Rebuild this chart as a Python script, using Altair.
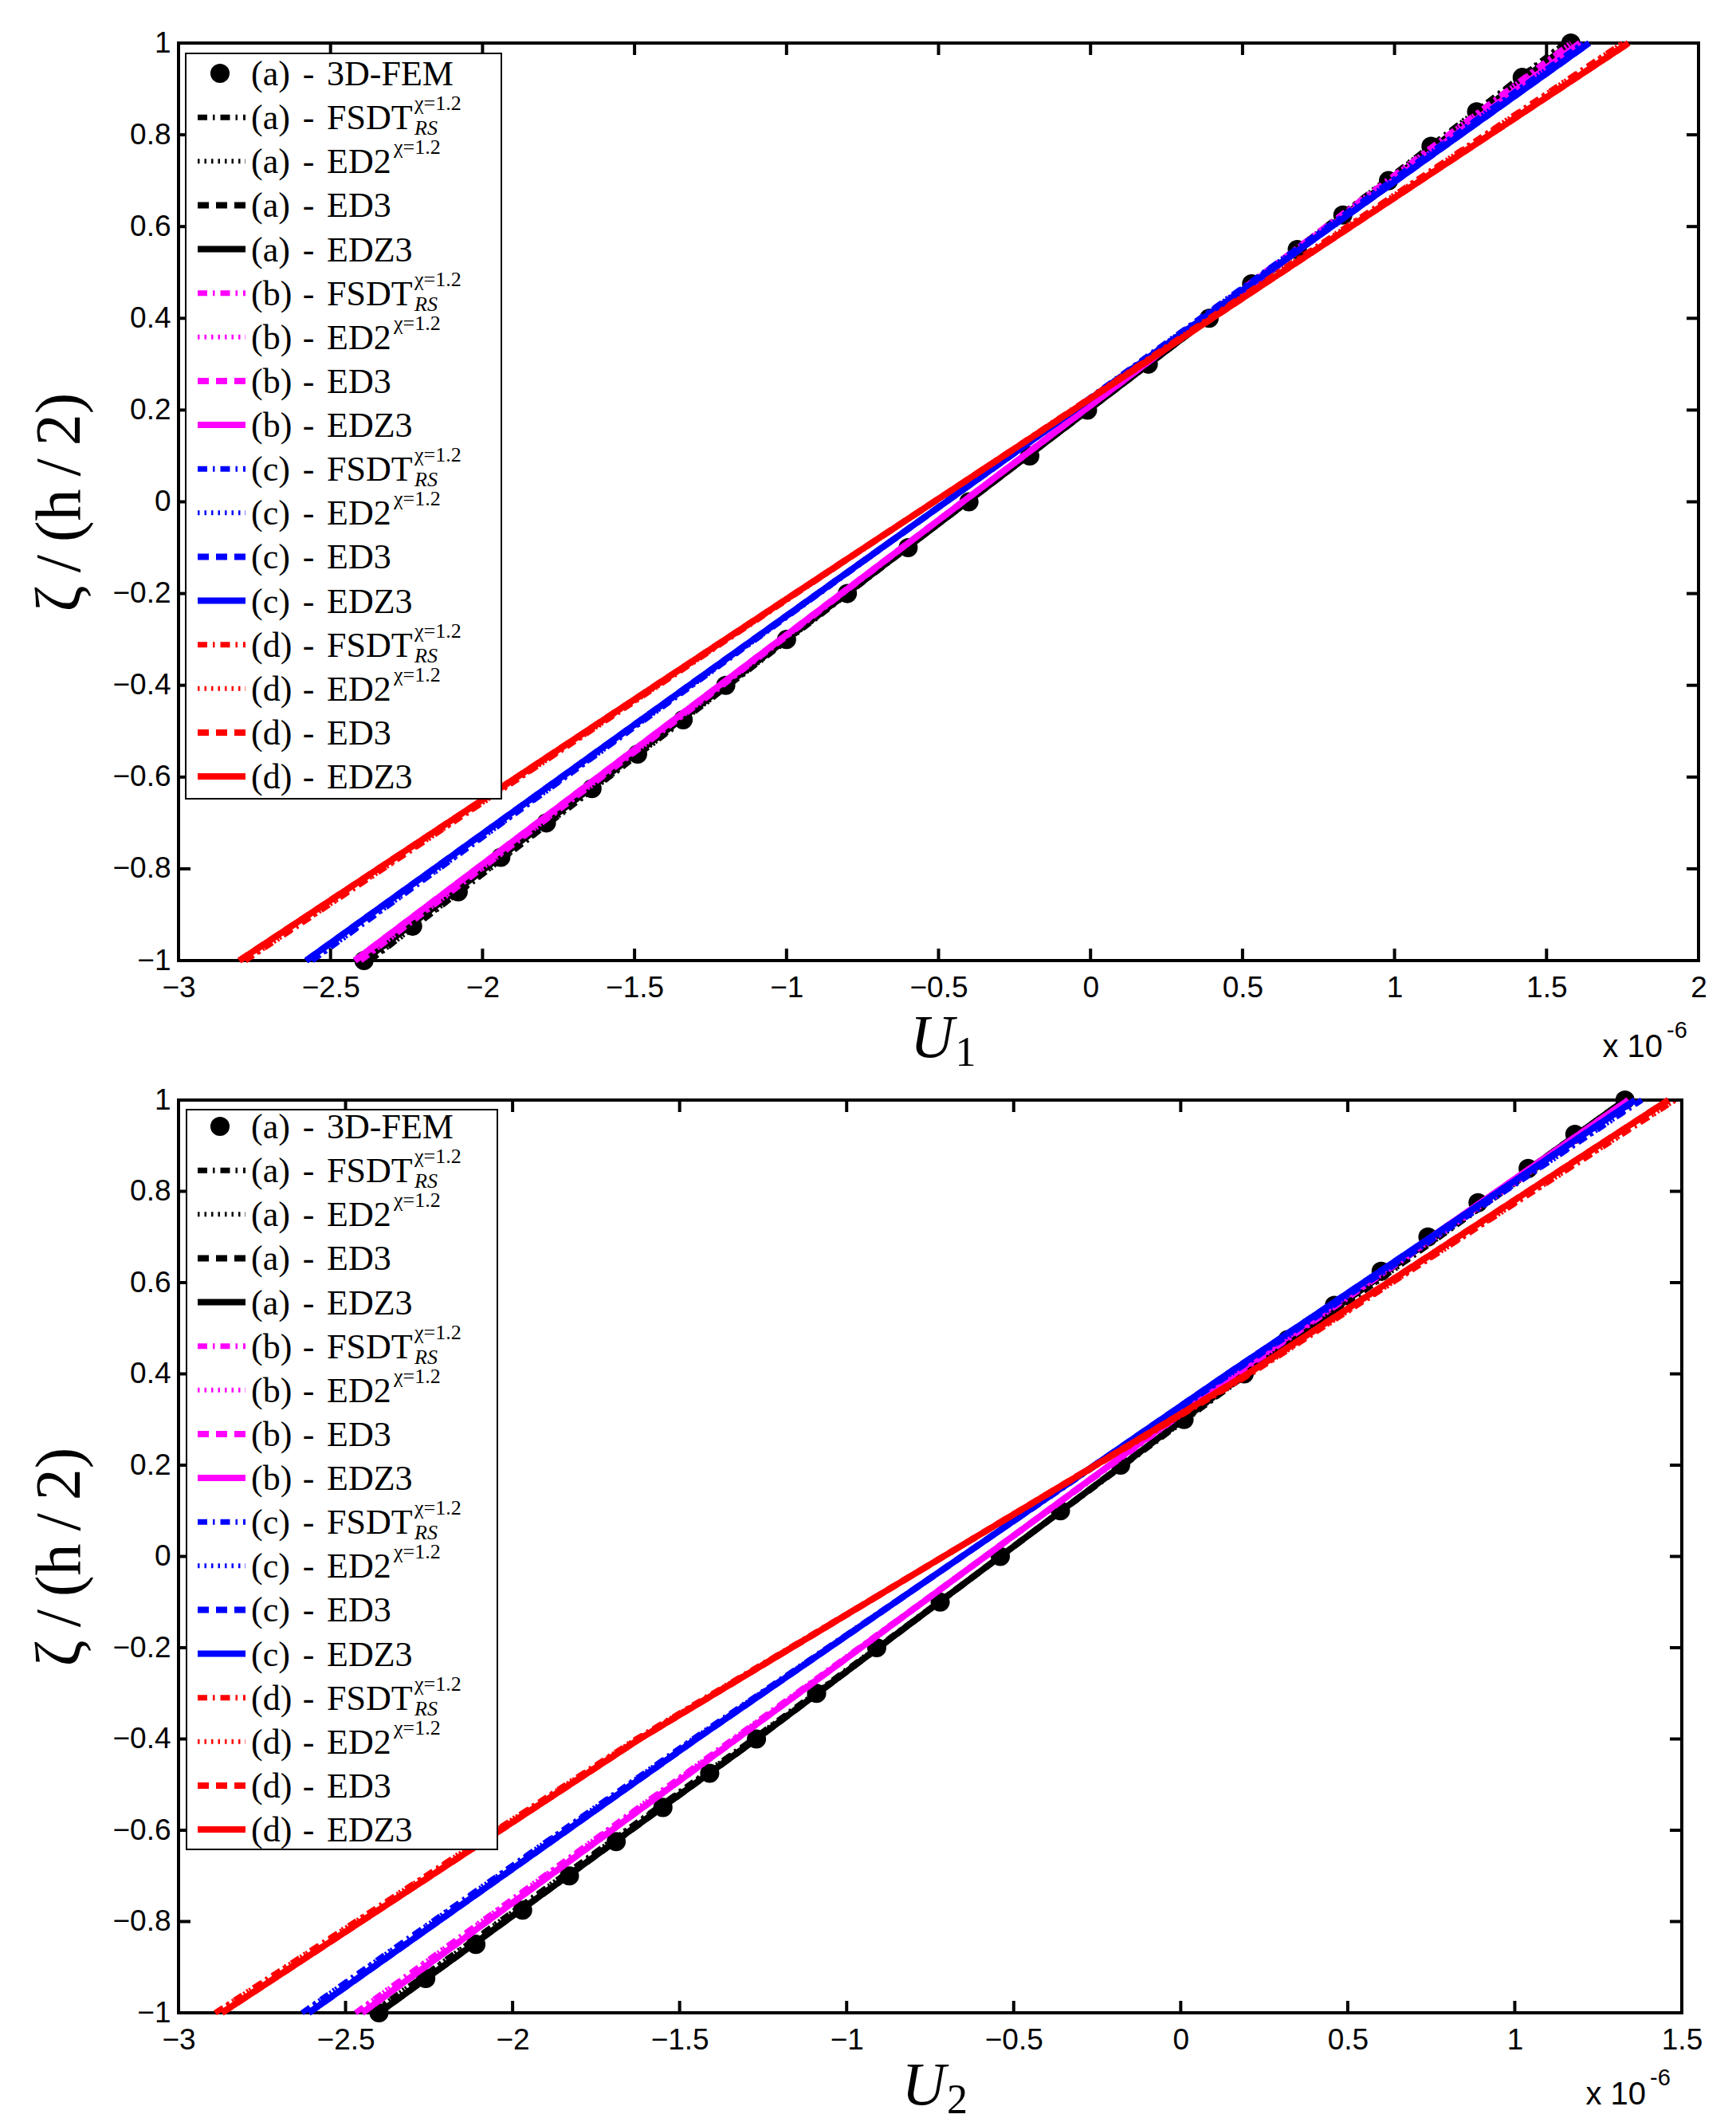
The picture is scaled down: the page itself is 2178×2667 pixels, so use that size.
import altair as alt
import pandas as pd

# ---------------- data (displacements in units of 1e-6) ----------------
ZETA = [-1.0, -0.4, 0.4, 1.0]

FEM_ZETA = [-1.0, -0.925, -0.85, -0.775, -0.7, -0.625, -0.55, -0.475, -0.4, -0.3, -0.2, -0.1,
            0.0, 0.1, 0.2, 0.3, 0.4, 0.475, 0.55, 0.625, 0.7, 0.775, 0.85, 0.925, 1.0]
FEM_U1 = [-2.39, -2.23, -2.08, -1.94, -1.79, -1.64, -1.49, -1.34, -1.20, -1.00, -0.80, -0.60,
          -0.40, -0.20, -0.01, 0.19, 0.39, 0.53, 0.68, 0.83, 0.98, 1.12, 1.27, 1.42, 1.58]
FEM_U2 = [-2.40, -2.26, -2.11, -1.97, -1.83, -1.69, -1.55, -1.41, -1.27, -1.09, -0.91, -0.72,
          -0.54, -0.36, -0.18, 0.01, 0.19, 0.32, 0.46, 0.60, 0.74, 0.89, 1.04, 1.18, 1.33]

# top panel, U1
U1_A_FSDT = [-2.37, -1.19, 0.38, 1.56]
U1_A_ED2 = [-2.37, -1.19, 0.38, 1.56]
U1_A_ED3 = [-2.39, -1.20, 0.39, 1.58]
U1_A_EDZ3 = [-2.39, -1.20, 0.39, 1.58]
U1_B_FSDT = [-2.40, -1.21, 0.37, 1.58]
U1_B_ED2 = [-2.40, -1.21, 0.37, 1.58]
U1_B_ED3 = [-2.42, -1.22, 0.38, 1.61]
U1_B_EDZ3 = [-2.42, -1.22, 0.38, 1.61]
U1_C_FSDT = [-2.56, -1.31, 0.36, 1.62]
U1_C_ED2 = [-2.56, -1.31, 0.36, 1.62]
U1_C_ED3 = [-2.58, -1.32, 0.37, 1.64]
U1_C_EDZ3 = [-2.58, -1.32, 0.37, 1.64]
U1_D_FSDT = [-2.78, -1.42, 0.39, 1.75]
U1_D_ED2 = [-2.78, -1.42, 0.39, 1.75]
U1_D_ED3 = [-2.80, -1.43, 0.40, 1.77]
U1_D_EDZ3 = [-2.80, -1.43, 0.40, 1.77]

# bottom panel, U2
U2_A_FSDT = [-2.42, -1.28, 0.20, 1.35]
U2_A_ED2 = [-2.42, -1.28, 0.20, 1.35]
U2_A_ED3 = [-2.40, -1.27, 0.19, 1.33]
U2_A_EDZ3 = [-2.40, -1.27, 0.19, 1.33]
U2_B_FSDT = [-2.47, -1.34, 0.17, 1.36]
U2_B_ED2 = [-2.47, -1.34, 0.17, 1.36]
U2_B_ED3 = [-2.45, -1.33, 0.16, 1.34]
U2_B_EDZ3 = [-2.45, -1.33, 0.16, 1.34]
U2_C_FSDT = [-2.63, -1.46, 0.15, 1.38]
U2_C_ED2 = [-2.63, -1.46, 0.15, 1.38]
U2_C_ED3 = [-2.61, -1.45, 0.14, 1.36]
U2_C_EDZ3 = [-2.61, -1.45, 0.14, 1.36]
U2_D_FSDT = [-2.89, -1.63, 0.21, 1.48]
U2_D_ED2 = [-2.89, -1.63, 0.21, 1.48]
U2_D_ED3 = [-2.87, -1.62, 0.20, 1.46]
U2_D_EDZ3 = [-2.87, -1.62, 0.20, 1.46]

CASES = ["(a)", "(b)", "(c)", "(d)"]
THEORIES = ["FSDT", "ED2", "ED3", "EDZ3"]
SUPS = {"FSDT": "χ=1.2", "ED2": "χ=1.2", "ED3": "", "EDZ3": ""}
SUBS = {"FSDT": "RS", "ED2": "", "ED3": "", "EDZ3": ""}

X1_TICKS = [-3, -2.5, -2, -1.5, -1, -0.5, 0, 0.5, 1, 1.5, 2]
X2_TICKS = [-3, -2.5, -2, -1.5, -1, -0.5, 0, 0.5, 1, 1.5]
Y_TICKS = [-1, -0.8, -0.6, -0.4, -0.2, 0, 0.2, 0.4, 0.6, 0.8, 1]

SERIES1 = {
    ("(a)", "FSDT"): U1_A_FSDT, ("(a)", "ED2"): U1_A_ED2, ("(a)", "ED3"): U1_A_ED3, ("(a)", "EDZ3"): U1_A_EDZ3,
    ("(b)", "FSDT"): U1_B_FSDT, ("(b)", "ED2"): U1_B_ED2, ("(b)", "ED3"): U1_B_ED3, ("(b)", "EDZ3"): U1_B_EDZ3,
    ("(c)", "FSDT"): U1_C_FSDT, ("(c)", "ED2"): U1_C_ED2, ("(c)", "ED3"): U1_C_ED3, ("(c)", "EDZ3"): U1_C_EDZ3,
    ("(d)", "FSDT"): U1_D_FSDT, ("(d)", "ED2"): U1_D_ED2, ("(d)", "ED3"): U1_D_ED3, ("(d)", "EDZ3"): U1_D_EDZ3,
}
SERIES2 = {
    ("(a)", "FSDT"): U2_A_FSDT, ("(a)", "ED2"): U2_A_ED2, ("(a)", "ED3"): U2_A_ED3, ("(a)", "EDZ3"): U2_A_EDZ3,
    ("(b)", "FSDT"): U2_B_FSDT, ("(b)", "ED2"): U2_B_ED2, ("(b)", "ED3"): U2_B_ED3, ("(b)", "EDZ3"): U2_B_EDZ3,
    ("(c)", "FSDT"): U2_C_FSDT, ("(c)", "ED2"): U2_C_ED2, ("(c)", "ED3"): U2_C_ED3, ("(c)", "EDZ3"): U2_C_EDZ3,
    ("(d)", "FSDT"): U2_D_FSDT, ("(d)", "ED2"): U2_D_ED2, ("(d)", "ED3"): U2_D_ED3, ("(d)", "EDZ3"): U2_D_EDZ3,
}

# ---------------- styles ----------------
CASE_COLOR = {"(a)": "#000000", "(b)": "#FF00FF", "(c)": "#0000FF", "(d)": "#FF0000"}
DASH = {"FSDT": [12, 7, 2.5, 7], "ED2": [2.5, 6], "ED3": [14, 9], "EDZ3": [1, 0]}
WIDTH = {"FSDT": 7, "ED2": 6, "ED3": 8, "EDZ3": 8}
SERIF = "Liberation Serif"
SANS = "Liberation Sans"
TICK_LEN = 15


def legend_frame():
    rows = [{"row": 0, "case": "(a)", "name": "3D-FEM", "theory": "FEM", "col": "#000000"}]
    r = 1
    for c in CASES:
        for t in THEORIES:
            rows.append({"row": r, "case": c, "name": t, "theory": t, "col": CASE_COLOR[c]})
            r += 1
    df = pd.DataFrame(rows)
    df["sup"] = df["theory"].map(lambda t: SUPS.get(t, ""))
    df["sub"] = df["theory"].map(lambda t: SUBS.get(t, ""))
    return df


def panel(fem_u, series, xdom, xticks, W, H, leg_range, box, sub_digit, title_dy):
    xs = alt.Scale(domain=xdom, nice=False, zero=False)
    ys = alt.Scale(domain=[-1, 1], nice=False, zero=False)
    ls = alt.Scale(domain=[0, 16], range=leg_range)
    layers = []

    fem = pd.DataFrame({"U": fem_u, "zeta": FEM_ZETA})
    layers.append(
        alt.Chart(fem).mark_circle(size=580, color="black", opacity=1).encode(
            x=alt.X("U:Q", scale=xs,
                    axis=alt.Axis(values=xticks, format=".1~f", title=None, labelFlush=False,
                                  labelPadding=16, labelOverlap=False, ticks=False, domain=False,
                                  grid=False, labelFont=SANS, labelFontSize=37, labelColor="black")),
            y=alt.Y("zeta:Q", scale=ys,
                    axis=alt.Axis(values=Y_TICKS, format=".1~f",
                                  title="ζ\u2009/\u2009(h\u2009/\u20092)", labelPadding=10,
                                  titlePadding=24, labelOverlap=False, ticks=False, domain=False,
                                  grid=False, labelFont=SANS, labelFontSize=37, labelColor="black",
                                  titleFont=SERIF, titleFontSize=80, titleFontWeight="normal",
                                  titleColor="black")),
        )
    )

    for c in CASES:
        for t in THEORIES:
            df = pd.DataFrame({"U": series[(c, t)], "zeta": ZETA})
            layers.append(
                alt.Chart(df).mark_line(color=CASE_COLOR[c], strokeDash=DASH[t],
                                        strokeWidth=WIDTH[t]).encode(
                    x=alt.X("U:Q", scale=xs),
                    y=alt.Y("zeta:Q", scale=ys, axis=None),
                    order="zeta:Q",
                )
            )

    # inward ticks on all four sides
    xt = pd.DataFrame({"t": xticks})
    yt = pd.DataFrame({"t": Y_TICKS})
    tk = dict(color="black", strokeWidth=4)
    layers.append(alt.Chart(xt).mark_rule(**tk).encode(
        x=alt.X("t:Q", scale=xs), y=alt.value(H), y2=alt.value(H - TICK_LEN)))
    layers.append(alt.Chart(xt).mark_rule(**tk).encode(
        x=alt.X("t:Q", scale=xs), y=alt.value(0), y2=alt.value(TICK_LEN)))
    layers.append(alt.Chart(yt).mark_rule(**tk).encode(
        y=alt.Y("t:Q", scale=ys, axis=None), x=alt.value(0), x2=alt.value(TICK_LEN)))
    layers.append(alt.Chart(yt).mark_rule(**tk).encode(
        y=alt.Y("t:Q", scale=ys, axis=None), x=alt.value(W), x2=alt.value(W - TICK_LEN)))

    # legend
    lg = legend_frame()
    bx0, bx1, by0, by1 = box
    layers.append(alt.Chart(pd.DataFrame({"k": [0]})).mark_rect(
        fill="white", stroke="black", strokeWidth=2).encode(
        x=alt.value(bx0), x2=alt.value(bx1), y=alt.value(by0), y2=alt.value(by1)))
    layers.append(alt.Chart(lg).transform_filter("datum.theory == 'FEM'").mark_circle(
        size=580, color="black", opacity=1).encode(
        x=alt.value(52), y=alt.Y("row:Q", scale=ls, axis=None)))
    for t in THEORIES:
        layers.append(alt.Chart(lg).transform_filter(f"datum.theory == '{t}'").mark_rule(
            strokeDash=DASH[t], strokeWidth=WIDTH[t]).encode(
            x=alt.value(24), x2=alt.value(84),
            y=alt.Y("row:Q", scale=ls, axis=None),
            color=alt.Color("col:N", scale=None)))
    txt = dict(font=SERIF, fontSize=44, color="black", baseline="alphabetic", dy=15)
    layers.append(alt.Chart(lg).mark_text(align="left", **txt).encode(
        x=alt.value(91), y=alt.Y("row:Q", scale=ls, axis=None), text="case:N"))
    layers.append(alt.Chart(lg).mark_text(align="center", **txt).encode(
        x=alt.value(163), y=alt.Y("row:Q", scale=ls, axis=None), text=alt.value("-")))
    layers.append(alt.Chart(lg).mark_text(align="left", **txt).encode(
        x=alt.value(186), y=alt.Y("row:Q", scale=ls, axis=None), text="name:N"))
    sup = dict(font=SERIF, fontSize=26, color="black", baseline="alphabetic", align="left")
    layers.append(alt.Chart(lg).transform_filter("datum.theory == 'FSDT'").mark_text(dy=-9, **sup).encode(
        x=alt.value(296), y=alt.Y("row:Q", scale=ls, axis=None), text="sup:N"))
    layers.append(alt.Chart(lg).transform_filter("datum.theory == 'FSDT'").mark_text(
        dy=22, fontStyle="italic", **sup).encode(
        x=alt.value(296), y=alt.Y("row:Q", scale=ls, axis=None), text="sub:N"))
    layers.append(alt.Chart(lg).transform_filter("datum.theory == 'ED2'").mark_text(dy=-9, **sup).encode(
        x=alt.value(270), y=alt.Y("row:Q", scale=ls, axis=None), text="sup:N"))

    # x-axis title and exponent
    one = pd.DataFrame({"k": [0]})
    layers.append(alt.Chart(one).mark_text(font=SERIF, fontStyle="italic", fontSize=76,
                                           align="center", baseline="alphabetic", color="black").encode(
        x=alt.value(W / 2 - 8), y=alt.value(H + title_dy), text=alt.value("U")))
    layers.append(alt.Chart(one).mark_text(font=SERIF, fontSize=52, align="left",
                                           baseline="alphabetic", color="black").encode(
        x=alt.value(W / 2 + 21), y=alt.value(H + title_dy + 11), text=alt.value(sub_digit)))
    layers.append(alt.Chart(one).mark_text(font=SANS, fontSize=40, align="right",
                                           baseline="alphabetic", color="black").encode(
        x=alt.value(W - 45), y=alt.value(H + title_dy), text=alt.value("x 10")))
    layers.append(alt.Chart(one).mark_text(font=SANS, fontSize=29, align="left",
                                           baseline="alphabetic", color="black").encode(
        x=alt.value(W - 40), y=alt.value(H + title_dy - 24), text=alt.value("-6")))

    return alt.layer(*layers).resolve_scale(y="independent").properties(width=W, height=H)


top = panel(FEM_U1, SERIES1, [-3, 2], X1_TICKS, 1907, 1151, [38, 920], (9, 405, 13, 948), "1", 121)
bottom = panel(FEM_U2, SERIES2, [-3, 1.5], X2_TICKS, 1886, 1145, [33, 915], (10, 400, 12, 940), "2", 115)

chart = alt.vconcat(top, bottom, spacing=10).properties(
    padding={"left": 25, "top": 25, "right": 5, "bottom": 5}
).configure_view(stroke="black", strokeWidth=4).configure_axis(
    ticks=False, domain=False, grid=False,
    labelFont=SANS, labelFontSize=37, labelColor="black",
    titleFont=SERIF, titleFontSize=80, titleFontWeight="normal", titleColor="black",
)

chart.save("out.html", embed_options={"renderer": "svg", "actions": False})
